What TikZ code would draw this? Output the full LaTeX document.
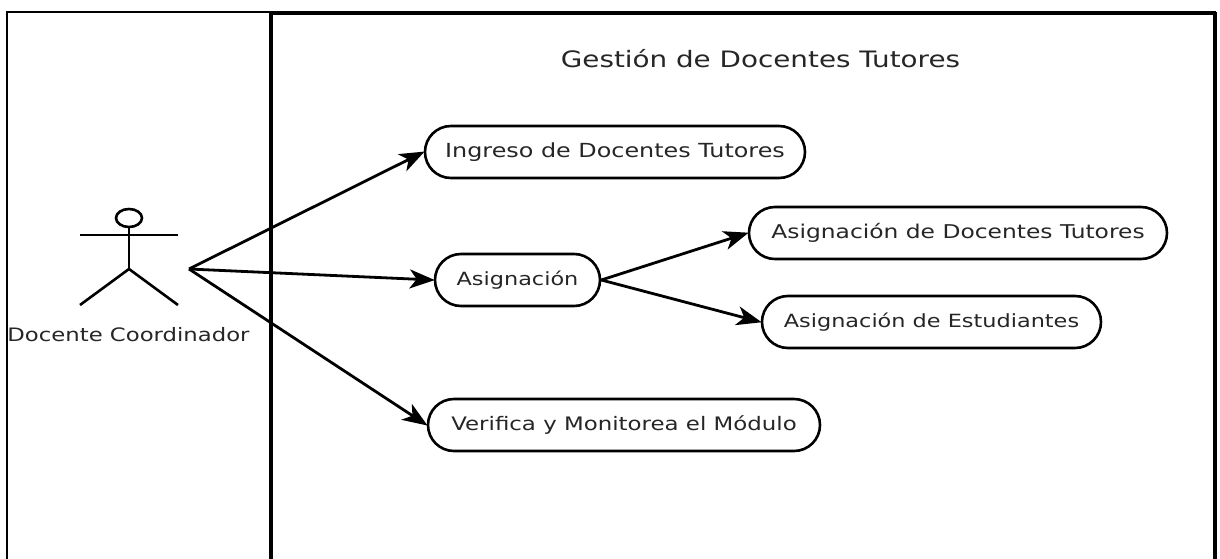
\documentclass[tikz,border=0pt]{standalone}
\usepackage{fontspec}
\setmainfont{DejaVu Sans}
\newfontfamily\widefont[FakeStretch=1.23]{DejaVu Sans}
\usetikzlibrary{arrows.meta,shapes.misc,shapes.geometric}
\tikzset{
  usecase/.style={draw=black,line width=2.6pt,rounded rectangle,minimum height=52pt,inner sep=0pt,fill=white,text=black!85},
  flow/.style={draw=black,line width=2.8pt,-{Stealth[length=25pt,width=19pt,inset=7pt]},shorten >=-1pt},
  stick/.style={draw=black,line width=2.6pt},
  frameline/.style={draw=black,line cap=rect},
  wide/.style={font=\widefont\fontsize{#1pt}{22pt}\selectfont}
}
\begin{document}
\begin{tikzpicture}[x=1pt,y=-1pt]
\useasboundingbox (0,0) rectangle (1220,559);
\fill[white] (0,0) rectangle (1220,559);
% frame
\draw[frameline,line width=2pt] (7,559) -- (7,12) -- (271,12);
\draw[frameline,line width=4pt] (271,13) -- (1214,13);
\draw[draw=black,line width=4pt] (271,12) -- (271,559);
\draw[draw=black,line width=4pt] (1215,12) -- (1215,559);
% title
\node[wide=22.6,text=black!85] (title) at (760.5,59) {Gestión de Docentes Tutores};
% actor
\node[stick,draw,ellipse,minimum width=26pt,minimum height=18pt,inner sep=0pt] (head) at (129,218) {};
\coordinate (hip) at (129,269);
\coordinate (larm) at (80,235);
\coordinate (rarm) at (178,235);
\coordinate (lfoot) at (80,305);
\coordinate (rfoot) at (178,305);
\draw[stick] (head.south) -- (hip);
\draw[stick] (larm) -- (rarm);
\draw[stick] (lfoot) -- (hip) -- (rfoot);
\node[wide=18.5,text=black!85] (actor) at (128.5,335) {Docente Coordinador};
\coordinate (src) at (189,269);
% use cases
\node[usecase,wide=19.4,minimum width=380pt] (ing) at (615,152) {Ingreso de Docentes Tutores};
\node[usecase,wide=18.2,minimum width=165pt] (asg) at (517.5,280) {Asignación};
\node[usecase,wide=19,minimum width=418pt] (doc) at (958,233) {Asignación de Docentes Tutores};
\node[usecase,wide=18.2,minimum width=339pt] (est) at (931.5,322) {Asignación de Estudiantes};
\node[usecase,wide=18.6,minimum width=392pt] (ver) at (624,425) {Verifica y Monitorea el Módulo};
% connectors
\draw[flow] (src) -- (ing.west);
\draw[flow] (src) -- (asg.west);
\draw[flow] (src) -- (ver.west);
\draw[flow] (asg.east) -- (doc.west);
\draw[flow] (asg.east) -- (est.west);
\end{tikzpicture}
\end{document}
